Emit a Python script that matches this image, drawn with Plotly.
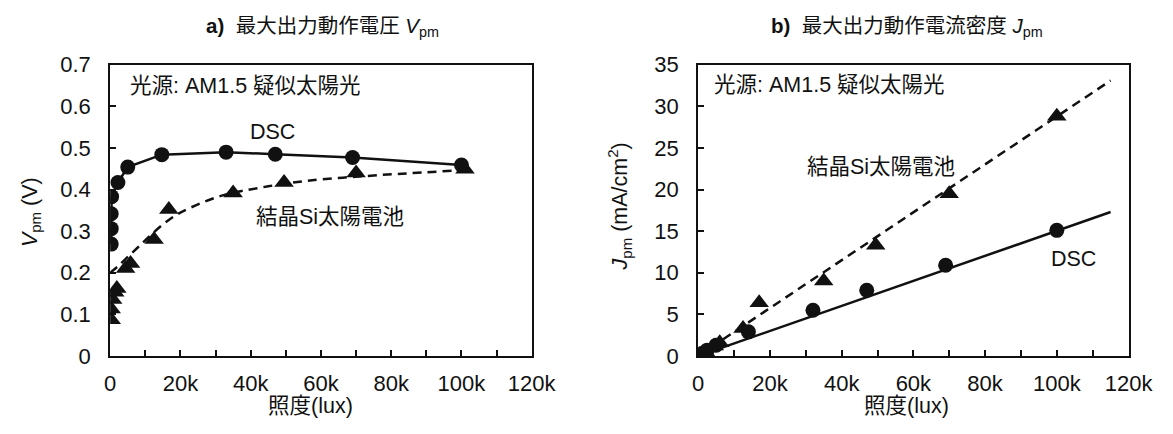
import plotly.graph_objects as go

# ---------------- data ----------------
# a) Vpm vs illuminance
dsc_v_lux = [300, 300, 300, 400, 2200, 5000, 14700, 33000, 47000, 69000, 100000]
dsc_v_val = [0.269, 0.306, 0.342, 0.383, 0.417, 0.454, 0.484, 0.490, 0.485, 0.477, 0.459]

si_v_lux = [300, 300, 700, 1300, 1900, 4400, 5800, 12500, 16700, 35000, 49500, 70000, 101000]
si_v_val = [0.087, 0.113, 0.136, 0.153, 0.162, 0.210, 0.222, 0.280, 0.352, 0.392, 0.417, 0.440, 0.449]

si_v_fit_lux = [0, 2000, 5000, 8000, 11000, 15000, 19000, 23000, 32000, 43000, 56000, 77000, 89000, 101000]
si_v_fit_val = [0.200, 0.214, 0.238, 0.262, 0.286, 0.316, 0.340, 0.357, 0.386, 0.405, 0.421, 0.435, 0.441, 0.447]

# b) Jpm vs illuminance
dsc_j_lux = [300, 1000, 2500, 5000, 14000, 32000, 47000, 69000, 100000]
dsc_j_val = [0.1, 0.3, 0.7, 1.3, 2.9, 5.5, 7.9, 10.9, 15.1]
dsc_j_fit_lux = [0, 115000]
dsc_j_fit_val = [0.0, 17.3]

si_j_lux = [300, 1000, 2000, 4500, 6000, 12500, 17000, 35000, 49500, 70000, 100000]
si_j_val = [0.1, 0.25, 0.5, 1.2, 1.6, 3.3, 6.4, 9.0, 13.3, 19.5, 28.8]
si_j_fit_lux = [0, 115000]
si_j_fit_val = [0.0, 33.1]

x_tickvals = [0, 20000, 40000, 60000, 80000, 100000, 120000]
x_ticktext = ["0", "20k", "40k", "60k", "80k", "100k", "120k"]
v_tickvals = [0, 0.1, 0.2, 0.3, 0.4, 0.5, 0.6, 0.7]
v_ticktext = ["0", "0.1", "0.2", "0.3", "0.4", "0.5", "0.6", "0.7"]
j_tickvals = [0, 5, 10, 15, 20, 25, 30, 35]
j_ticktext = ["0", "5", "10", "15", "20", "25", "30", "35"]

# ---------------- figure ----------------
W, H = 1173, 434
FONT = "Liberation Sans, Arial, Noto Sans CJK JP, sans-serif"
FS_TICK = 22
FS_TXT = 21.5
BLACK = "#111111"

fig = go.Figure()

line_solid = dict(color=BLACK, width=2.5)
line_dash = dict(color=BLACK, width=2.5, dash="9px,6px")
circ = dict(symbol="circle", size=15, color=BLACK)
tri = dict(symbol="triangle-up", size=17, color=BLACK)

# panel a
fig.add_trace(go.Scatter(x=si_v_fit_lux, y=si_v_fit_val, mode="lines", line_shape="spline",
                         line=line_dash, xaxis="x", yaxis="y", showlegend=False, hoverinfo="skip"))
fig.add_trace(go.Scatter(x=dsc_v_lux, y=dsc_v_val, mode="lines+markers", line=line_solid,
                         marker=circ, xaxis="x", yaxis="y", showlegend=False))
fig.add_trace(go.Scatter(x=si_v_lux, y=si_v_val, mode="markers", marker=tri,
                         xaxis="x", yaxis="y", showlegend=False))

# panel b
fig.add_trace(go.Scatter(x=si_j_fit_lux, y=si_j_fit_val, mode="lines", line=line_dash,
                         xaxis="x2", yaxis="y2", showlegend=False, hoverinfo="skip"))
fig.add_trace(go.Scatter(x=dsc_j_fit_lux, y=dsc_j_fit_val, mode="lines", line=line_solid,
                         xaxis="x2", yaxis="y2", showlegend=False, hoverinfo="skip"))
fig.add_trace(go.Scatter(x=dsc_j_lux, y=dsc_j_val, mode="markers", marker=circ,
                         xaxis="x2", yaxis="y2", showlegend=False))
fig.add_trace(go.Scatter(x=si_j_lux, y=si_j_val, mode="markers", marker=tri,
                         xaxis="x2", yaxis="y2", showlegend=False))

def px_x(p):
    return p / W

def px_y(p):
    return 1 - p / H

ydom = [px_y(365), px_y(56)]

xaxis_common = dict(
    range=[0, 120000], tickvals=x_tickvals, ticktext=x_ticktext,
    showline=True, linecolor=BLACK, linewidth=2, mirror=True,
    ticks="inside", ticklen=6, tickwidth=1.5, tickcolor=BLACK,
    minor=dict(dtick=10000, tick0=0, ticks="inside", ticklen=6, tickwidth=1.5, tickcolor=BLACK),
    showgrid=False, zeroline=False, ticklabelstandoff=7,
    tickfont=dict(family=FONT, size=FS_TICK, color=BLACK), fixedrange=True,
)
yaxis_common = dict(
    showline=True, linecolor=BLACK, linewidth=2, mirror=True,
    ticks="inside", ticklen=6, tickwidth=1.5, tickcolor=BLACK,
    showgrid=False, zeroline=False, ticklabelstandoff=13,
    tickfont=dict(family=FONT, size=FS_TICK, color=BLACK), fixedrange=True,
)

fig.update_layout(
    width=W, height=H,
    margin=dict(l=0, r=0, t=0, b=0),
    paper_bgcolor="white", plot_bgcolor="white",
    font=dict(family=FONT, size=FS_TXT, color=BLACK),
    xaxis=dict(domain=[px_x(107), px_x(540)], anchor="y", **xaxis_common),
    yaxis=dict(domain=ydom, anchor="x", range=[0, 0.7], tickvals=v_tickvals,
               ticktext=v_ticktext, **yaxis_common),
    xaxis2=dict(domain=[px_x(711), px_x(1153)], anchor="y2", **xaxis_common),
    yaxis2=dict(domain=ydom, anchor="x2", range=[0, 35], tickvals=j_tickvals,
                ticktext=j_ticktext, **yaxis_common),
)

def ann(text, x, y, size=FS_TXT, angle=0, xanchor="center"):
    fig.add_annotation(text=text, x=px_x(x), y=px_y(y), xref="paper", yref="paper",
                       showarrow=False, xanchor=xanchor, yanchor="middle", textangle=angle,
                       font=dict(family=FONT, size=size, color=BLACK))

# titles
ann("<b>a)</b>  最大出力動作電圧 <i>V</i><sub>pm</sub>", 325, 16, size=20.5)
ann("<b>b)</b>  最大出力動作電流密度 <i>J</i><sub>pm</sub>", 925, 16, size=20.5)

# axis titles
ann("<i>V</i><sub>pm</sub> (V)", 26, 212, angle=-90)
ann("<i>J</i><sub>pm</sub> (mA/cm<sup>2</sup>)", 630, 206, angle=-90)
ann("照度(lux)", 313, 418)
ann("照度(lux)", 925, 418)

# in-plot labels
ann("光源: AM1.5 疑似太陽光", 125, 78, xanchor="left")
ann("光源: AM1.5 疑似太陽光", 725, 77, xanchor="left")
ann("DSC", 274, 127)
ann("結晶Si太陽電池", 333, 218)
ann("結晶Si太陽電池", 899, 165)
ann("DSC", 1096, 262)

fig.write_html("out.html")
